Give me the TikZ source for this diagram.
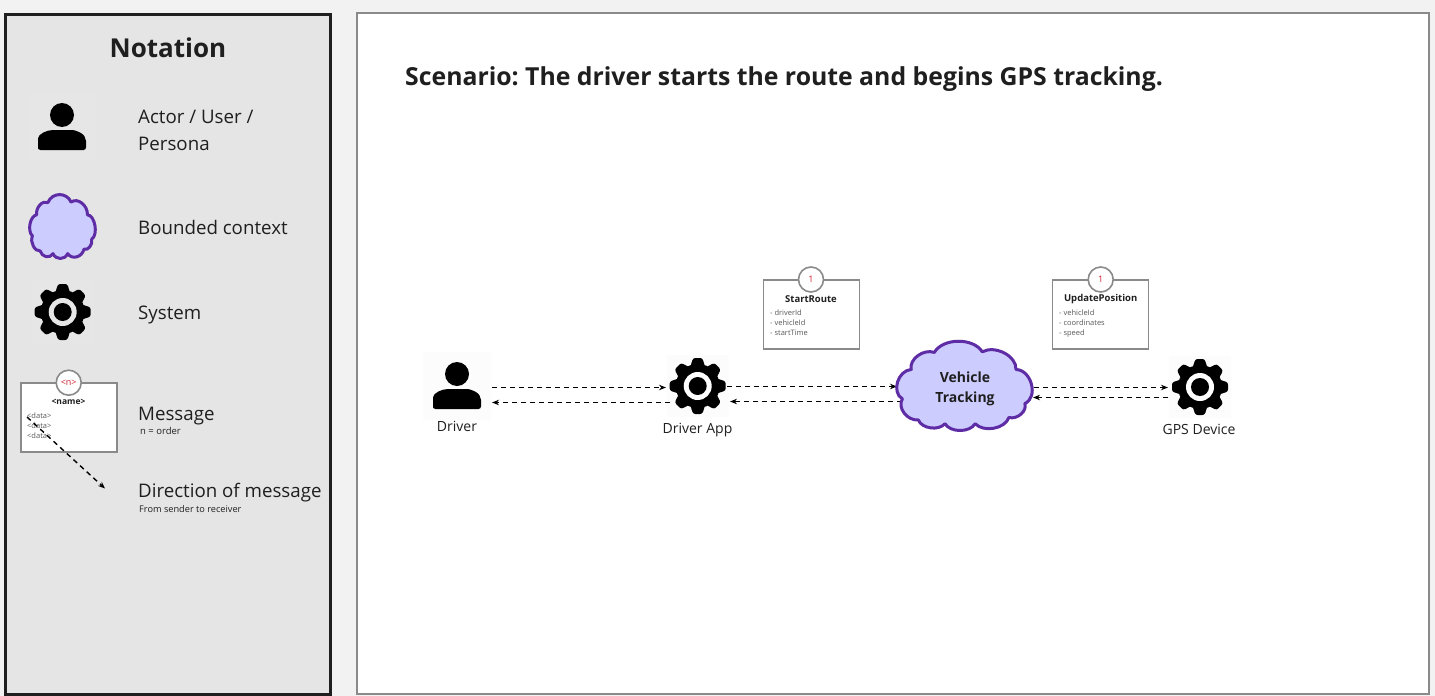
\documentclass[tikz,border=0pt]{standalone}
\usepackage{fontspec}
\setmainfont{Open Sans}
\usetikzlibrary{arrows.meta}
\definecolor{ink}{HTML}{1F1F1F}
\definecolor{page}{HTML}{F2F2F2}
\definecolor{panel}{HTML}{E5E5E5}
\definecolor{edge}{HTML}{8A8A8A}
\definecolor{cloudfill}{HTML}{CCCCFF}
\definecolor{cloudline}{HTML}{5E2CA5}
\definecolor{ordercol}{HTML}{D0202E}
\newcommand{\fs}[1]{\fontsize{#1}{#1}\selectfont}
\frenchspacing
\tikzset{
  lbl/.style={inner sep=0pt,text=ink,font=\fs{#1}},
  lblw/.style={lbl=#1,anchor=mid west},
  ttl/.style={inner sep=0pt,text=ink,font=\fs{#1}\bfseries},
  datatxt/.style={inner sep=0pt,anchor=mid west,text=black!65,font=\fs{#1}},
  msgbox/.style={draw=edge,line width=1.6pt,fill=white},
  orderc/.style={circle,draw=edge,line width=1.6pt,fill=white,inner sep=0pt,minimum size=25pt,text=ordercol,font=\fs{9}},
  flow/.style={-{Stealth[length=7pt,width=5.5pt]},dash pattern=on 5pt off 4pt,line width=1.4pt,black},
  iconbg/.style={inner sep=0pt,minimum size=68pt,draw=none,fill=#1},
  pics/actor/.style={code={
    \fill[black] (0,-13) circle[radius=12];
    \fill[black] (-24,21) [rounded corners=2.5pt] -- (-24,13) [sharp corners] .. controls (-24,6) and (-15,2) .. (-9,2) -- (9,2) .. controls (15,2) and (24,6) .. (24,13) [rounded corners=2.5pt] -- (24,22) -- (-24,22) [sharp corners] -- cycle;
  }},
  pics/gear/.style={code={
    \fill[black] (0,0) circle[radius=22];
    \foreach \a in {0,45,...,315}{
      \fill[black,rotate=\a,rounded corners=2.2pt] (-7.5,-19) -- (-4.6,-28) -- (4.6,-28) -- (7.5,-19) -- cycle;
    }
    \fill[#1] (0,0) circle[radius=14];
    \fill[black] (0,0) circle[radius=9];
  }},
  pics/cloudshape/.style={code={
    \draw[line width=#1,draw=cloudline,fill=cloudfill,line join=round]
      (-150,-55) to[bend left=62] (-85,-110) to[bend left=62] (50,-112)
      to[bend left=62] (145,-55) to[bend left=75] (170,55) to[bend left=62] (125,100)
      to[bend left=62] (30,120) to[bend left=62] (-55,120) to[bend left=62] (-130,108)
      to[bend left=62] (-175,40) to[bend left=70] cycle;
  }}
}
\begin{document}
\begin{tikzpicture}[x=1pt,y=-1pt]
\useasboundingbox (0,0) rectangle (1435,696);
\fill[page] (0,0) rectangle (1435,696);
% panels
\node[draw=ink,line width=3pt,fill=panel,minimum width=325pt,minimum height=680pt,inner sep=0pt] (notationpanel) at (167.5,354) {};
\node[draw=edge,line width=1.5pt,fill=white,minimum width=1072pt,minimum height=681pt,inner sep=0pt] (mainpanel) at (893,353.5) {};
% notation
\node[ttl=26] (notationtitle) at (168,48) {Notation};
\node[iconbg=panel!96!white] (legactor) at (62,127) {};
\pic at (62,128) {actor};
\node[lblw=18.7] (legactora) at (138,120.5) {Actor / User /};
\node[lblw=18.7] (legactorb) at (138,147.5) {Persona};
\begin{scope}[shift={(62.5,227)},xscale=0.172,yscale=0.222]
\pic[transform shape] {cloudshape=3pt};
\end{scope}
\node[inner sep=0pt] (legcloud) at (62.5,227) {};
\node[lblw=18.7] (legcloudt) at (138,231.5) {Bounded context};
\node[iconbg=panel!96!white,minimum size=62pt] (leggear) at (62.5,312) {};
\pic at (62.7,312) {gear=panel!96!white};
\node[lblw=18.7] (legsys) at (138,316.5) {System};
\node[msgbox,minimum width=96pt,minimum height=69pt,inner sep=0pt] (legmsg) at (69,417.5) {};
\node[orderc] (legorder) at (68.7,382.7) {<n>};
\node[ttl=8.5] (legname) at (68.5,402) {<name>};
\node[datatxt=7.5] (legd1) at (27,415.5) {<data>};
\node[datatxt=7.5] (legd2) at (27,425.5) {<data>};
\node[datatxt=7.5] (legd3) at (27,435.5) {<data>};
\coordinate (legfrom) at (27,417);
\coordinate (legto) at (105,488.5);
\draw[flow] (legfrom) -- (legto);
\node[lblw=18.7] (legmsgt) at (138,418) {Message};
\node[lblw=9.5] (legn) at (140,432) {n = order};
\node[lblw=18.7] (legdir) at (138,495) {Direction of message};
\node[lblw=9.2] (legdirb) at (139,510) {From sender to receiver};
% scenario
\node[ttl=24.8,anchor=mid west] (scenario) at (405,83) {Scenario: The driver starts the route and begins GPS tracking.};
% actors and systems
\node[iconbg=black!1] (driver) at (457,386) {};
\pic at (457,387) {actor};
\node[lbl=14] (driverl) at (457,426) {Driver};
\node[iconbg=black!1,minimum size=62pt] (app) at (697.7,386) {};
\pic at (697.7,386) {gear=white};
\node[lbl=14] (appl) at (697.5,430.5) {Driver App};
\node[iconbg=black!1,minimum size=62pt] (gps) at (1200,387) {};
\pic at (1200,387) {gear=white};
\node[lbl=14] (gpsl) at (1199,429) {GPS Device};
% messages
\node[msgbox,minimum width=96pt,minimum height=69pt,inner sep=0pt] (m1) at (811.3,314.5) {};
\node[orderc] (m1o) at (811,279.5) {1};
\node[ttl=9.5] (m1n) at (811,299) {StartRoute};
\node[datatxt=7.5] (m1a) at (770,313) {- driverId};
\node[datatxt=7.5] (m1b) at (770,323) {- vehicleId};
\node[datatxt=7.5] (m1c) at (770,333) {- startTime};
\node[msgbox,minimum width=96pt,minimum height=69pt,inner sep=0pt] (m2) at (1100.6,314.5) {};
\node[orderc] (m2o) at (1100.7,279.5) {1};
\node[ttl=9.5] (m2n) at (1100.7,299) {UpdatePosition};
\node[datatxt=7.5] (m2a) at (1059,313) {- vehicleId};
\node[datatxt=7.5] (m2b) at (1059,323) {- coordinates};
\node[datatxt=7.5] (m2c) at (1059,333) {- speed};
% connector ends
\coordinate (d1) at (492,387.5); \coordinate (a1) at (666,387.5);
\coordinate (a2) at (670,402.5); \coordinate (d2) at (492,402.5);
\coordinate (a3) at (727,386.5); \coordinate (c3) at (897,386.5);
\coordinate (c4) at (902,401.5); \coordinate (a4) at (730,401.5);
\coordinate (c5) at (1034,387.5); \coordinate (g5) at (1168,387.5);
\coordinate (g6) at (1168,397.5); \coordinate (c6) at (1033,397.5);
\draw[flow] (d1) -- (a1);
\draw[flow] (a2) -- (d2);
\draw[flow] (a3) -- (c3);
\draw[flow] (c4) -- (a4);
\draw[flow] (c5) -- (g5);
\begin{scope}[shift={(964.5,386.5)},xscale=0.355,yscale=0.31]
\pic[transform shape] {cloudshape=3pt};
\end{scope}
\node[ttl=14,align=center,font=\fs{14}\bfseries,text=ink] (vt) at (965,389.5) {\strut Vehicle\\[0.32em]\strut Tracking};
\draw[flow] (g6) -- (c6);
\end{tikzpicture}
\end{document}
